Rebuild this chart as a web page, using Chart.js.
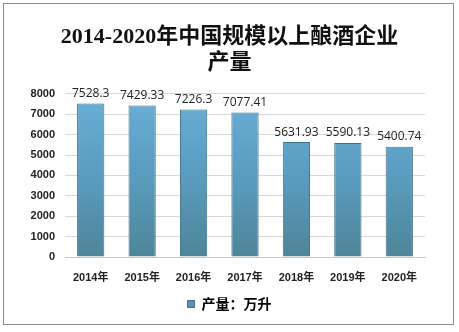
<!DOCTYPE html>
<html lang="zh">
<head>
<meta charset="UTF-8">
<title>2014-2020年中国规模以上酿酒企业产量</title>
<style>
  html, body { margin: 0; padding: 0; background: #fff; }
  #wrap { width: 459px; height: 332px; }
</style>
</head>
<body>
<div id="wrap"><canvas id="myChart" width="459" height="332"></canvas></div>
<script src="https://cdn.jsdelivr.net/npm/chart.js"></script>
<script>
// 数据
var years = ['2014年', '2015年', '2016年', '2017年', '2018年', '2019年', '2020年'];
var output = [7528.3, 7429.33, 7226.3, 7077.41, 5631.93, 5590.13, 5400.74];
var valueLabels = ['7528.3', '7429.33', '7226.3', '7077.41', '5631.93', '5590.13', '5400.74'];
var seriesName = '产量：万升';
var yTicks = [0, 1000, 2000, 3000, 4000, 5000, 6000, 7000, 8000];

// 柱子渐变
function barFill(ctx) {
  var area = ctx.chart.chartArea;
  if (!area) return '#5d9ec0';
  var g = ctx.chart.ctx.createLinearGradient(0, area.top, 0, area.bottom);
  g.addColorStop(0, '#6aafd6');
  g.addColorStop(0.5, '#5a9cc0');
  g.addColorStop(1, '#4e8598');
  return g;
}

// 白底 + 外框
var frame = {
  id: 'frame',
  beforeDraw: function (chart) {
    var c = chart.ctx;
    c.save();
    c.fillStyle = '#fff';
    c.fillRect(0, 0, chart.width, chart.height);
    c.strokeStyle = '#8a8a8a';
    c.lineWidth = 1;
    c.strokeRect(3.5, 3.5, 450, 321);
    c.restore();
  }
};

// 柱顶数值
var valueTags = {
  id: 'valueTags',
  afterDatasetsDraw: function (chart) {
    var c = chart.ctx;
    var meta = chart.getDatasetMeta(0);
    c.save();
    c.font = '12px "Open Sans", sans-serif';
    c.fillStyle = '#222';
    c.textAlign = 'center';
    c.textBaseline = 'bottom';
    meta.data.forEach(function (bar, i) {
      c.fillText(valueLabels[i], bar.x, bar.y - 4);
    });
    c.restore();
  }
};

var ctx = document.getElementById('myChart');
var myChart = new Chart(ctx, {
  type: 'bar',
  data: {
    labels: years,
    datasets: [{
      label: seriesName,
      data: output,
      backgroundColor: barFill,
      borderColor: '#3f7088',
      borderWidth: 1,
      borderSkipped: 'bottom',
      categoryPercentage: 1,
      barPercentage: 0.53
    }]
  },
  options: {
    responsive: false,
    animation: false,
    devicePixelRatio: 1,
    layout: { padding: { left: 3, right: 3, top: 0, bottom: 11 } },
    plugins: {
      title: {
        display: true,
        text: ['2014-2020年中国规模以上酿酒企业', '产量'],
        color: '#111',
        font: { family: '"Liberation Serif", "Noto Sans CJK SC", serif', size: 22, weight: 'bold', lineHeight: 1.2 },
        padding: { top: 24, bottom: 17 }
      },
      legend: {
        position: 'bottom',
        labels: {
          color: '#222',
          boxWidth: 7,
          boxHeight: 7,
          padding: 5,
          font: { family: '"Noto Sans CJK SC", sans-serif', size: 14, weight: 'bold' },
          generateLabels: function () {
            return [{ text: seriesName, fillStyle: '#5a93b0', strokeStyle: '#3f7088', lineWidth: 1 }];
          }
        }
      },
      tooltip: { enabled: false }
    },
    scales: {
      x: {
        afterFit: function (scale) { scale.height = 35; },
        grid: { display: false, drawTicks: false },
        border: { color: '#c8c8c8' },
        ticks: {
          color: '#222',
          padding: 14,
          font: { family: '"Liberation Sans", "Noto Sans CJK SC", sans-serif', size: 11, weight: 'bold' }
        }
      },
      y: {
        min: 0,
        max: 8000,
        afterFit: function (scale) { scale.width = 62; },
        afterBuildTicks: function (scale) {
          scale.ticks = yTicks.map(function (v) { return { value: v }; });
        },
        grid: { color: '#d9d9d9', drawTicks: false },
        border: { display: false },
        ticks: {
          color: '#222',
          padding: 10,
          callback: function (v) { return String(v); },
          font: { family: '"Liberation Sans", sans-serif', size: 11, weight: 'bold' }
        }
      },
      // 右侧留白
      y2: {
        position: 'right',
        min: 0,
        max: 8000,
        afterFit: function (scale) { scale.width = 31; },
        grid: { display: false, drawTicks: false },
        border: { display: false },
        ticks: { display: false }
      }
    }
  },
  plugins: [frame, valueTags]
});
</script>
</body>
</html>
